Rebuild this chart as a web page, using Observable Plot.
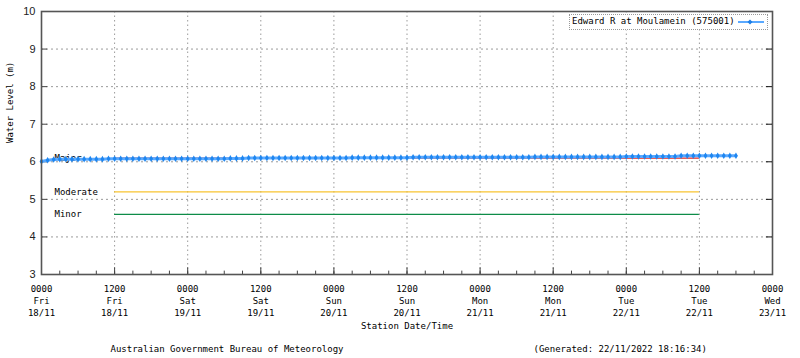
<!DOCTYPE html>
<html><head><meta charset="utf-8">
<script src="https://cdn.jsdelivr.net/npm/d3@7"></script>
<script src="https://cdn.jsdelivr.net/npm/@observablehq/plot@0.6"></script>
<style>
body{margin:0;background:#fff;}
#wrap{position:relative;width:800px;height:358px;}
#legend{position:absolute;left:569px;top:14px;width:197px;height:14px;border:1px dotted #999;background:#fff;font:9px "DejaVu Sans Mono",monospace;color:#000;}
#legend span{position:absolute;left:2px;top:1px;white-space:nowrap;}
#legend svg{position:absolute;left:167px;top:2px;}
</style></head><body><div id="wrap"><div id="legend"><span id="legtext"></span><svg width="28" height="10"><line x1="1" y1="5" x2="27" y2="5" stroke="#5aa9ff" stroke-width="2"/><path d="M13,2.5L15.5,5L13,7.5L10.5,5Z" fill="#1e7fe6"/></svg></div></div>
<script>
const stationName = "Edward R at Moulamein (575001)";
const seriesStart = "2022-11-18T00:00Z"; // first reading, hourly readings follow
const waterLevels = [
  6.01, 6.04, 6.06, 6.07, 6.07, 6.07, 6.07, 6.07, 6.07, 6.07,
  6.07, 6.08, 6.08, 6.08, 6.08, 6.08, 6.08, 6.08, 6.08, 6.08,
  6.08, 6.08, 6.08, 6.08, 6.08, 6.08, 6.08, 6.08, 6.08, 6.08,
  6.08, 6.09, 6.09, 6.09, 6.10, 6.10, 6.10, 6.10, 6.10, 6.10,
  6.10, 6.10, 6.10, 6.10, 6.10, 6.10, 6.10, 6.10, 6.10, 6.10,
  6.10, 6.11, 6.11, 6.11, 6.11, 6.11, 6.11, 6.11, 6.11, 6.11,
  6.11, 6.12, 6.12, 6.12, 6.12, 6.12, 6.12, 6.12, 6.12, 6.12,
  6.12, 6.12, 6.12, 6.12, 6.12, 6.12, 6.12, 6.12, 6.12, 6.12,
  6.12, 6.13, 6.13, 6.13, 6.13, 6.13, 6.13, 6.13, 6.13, 6.13,
  6.13, 6.13, 6.13, 6.13, 6.13, 6.13, 6.14, 6.14, 6.14, 6.14,
  6.14, 6.14, 6.14, 6.14, 6.14, 6.16, 6.16, 6.16, 6.16, 6.16,
  6.16, 6.16, 6.16, 6.16, 6.16
];
const thresholdNames = ["Major", "Moderate", "Minor"];
const thresholdLevels = [6.1, 5.2, 4.6];
const thresholdColors = ["#e3261f", "#f8c430", "#0e8c48"];
const thresholdFrom = "2022-11-18T12:00Z";
const thresholdTo = "2022-11-22T12:00Z";
const xTickTimes = ["2022-11-18T00:00Z","2022-11-18T12:00Z","2022-11-19T00:00Z","2022-11-19T12:00Z","2022-11-20T00:00Z","2022-11-20T12:00Z","2022-11-21T00:00Z","2022-11-21T12:00Z","2022-11-22T00:00Z","2022-11-22T12:00Z","2022-11-23T00:00Z"];
const xTickLabels = ["0000\nFri\n18/11","1200\nFri\n18/11","0000\nSat\n19/11","1200\nSat\n19/11","0000\nSun\n20/11","1200\nSun\n20/11","0000\nMon\n21/11","1200\nMon\n21/11","0000\nTue\n22/11","1200\nTue\n22/11","0000\nWed\n23/11"];
const yTicks = [3, 4, 5, 6, 7, 8, 9, 10];
const yTitle = "Water Level (m)";
const xTitle = "Station Date/Time";
const footerLeft = "Australian Government Bureau of Meteorology";
const footerRight = "(Generated: 22/11/2022 18:16:34)";

const t0 = new Date(seriesStart);
const HOUR = 3600e3;
const series = waterLevels.map((v, i) => ({time: new Date(+t0 + i * HOUR), level: v}));
const xTicks = xTickTimes.map(s => new Date(s));
const xStart = xTicks[0], xEnd = xTicks[xTicks.length - 1];
const minorTicks = d3.utcHour.every(3).range(xStart, xEnd);
const thresholds = thresholdNames.map((n, i) => ({name: n, level: thresholdLevels[i], color: thresholdColors[i]}));
const tFrom = new Date(thresholdFrom), tTo = new Date(thresholdTo);
const mono = "DejaVu Sans Mono";

document.getElementById("legtext").textContent = stationName;

const chart = Plot.plot({
  width: 800, height: 358,
  marginLeft: 41, marginRight: 28, marginTop: 11, marginBottom: 84,
  style: {fontFamily: mono, fontSize: "9px", color: "#000", background: "#fff"},
  x: {type: "utc", domain: [xStart, xEnd]},
  y: {domain: [3, 10]},
  color: {type: "identity"},
  marks: [
    Plot.gridX(xTicks, {stroke: "#9a9a9a", strokeOpacity: 1, strokeDasharray: "1.5,3"}),
    Plot.gridY(yTicks, {stroke: "#9a9a9a", strokeOpacity: 1, strokeDasharray: "2,3"}),
    Plot.ruleX(minorTicks, {y1: 3, y2: 3.09, stroke: "#444"}),
    Plot.ruleX(xTicks, {y1: 3, y2: 3.18, stroke: "#444"}),
    Plot.ruleY(yTicks, {x1: xStart, x2: new Date(+xStart + HOUR), stroke: "#444"}),
    Plot.ruleY(yTicks, {x1: new Date(+xEnd - HOUR), x2: xEnd, stroke: "#111"}),
    Plot.ruleY(thresholds, {y: "level", x1: tFrom, x2: tTo, stroke: "color", strokeWidth: 1.2}),
    Plot.text(thresholds, {y: "level", text: "name", frameAnchor: "left", dx: 13, textAnchor: "start", fontFamily: mono, fontSize: 9, fill: "#000"}),
    Plot.line(series, {x: "time", y: "level", stroke: "#5aa9ff", strokeWidth: 3}),
    Plot.dot(series, {x: "time", y: "level", symbol: "diamond", r: 2, fill: "#1e86f0", stroke: "none"}),
    Plot.axisX(xTicks, {tickFormat: d => xTickLabels[xTicks.findIndex(t => +t === +d)], tickSize: 0, tickPadding: 9, lineHeight: 1.33, fontFamily: mono, fontSize: 9, label: null}),
    Plot.axisY(yTicks, {tickSize: 0, tickPadding: 6, fontFamily: "Liberation Sans", fontSize: 11, fill: "#222", label: null}),
    Plot.frame({stroke: "#555", strokeWidth: 1.6}),
    Plot.text([yTitle], {frameAnchor: "left", dx: -31, rotate: -90, fontFamily: mono, fontSize: 9}),
    Plot.text([xTitle], {frameAnchor: "bottom", dy: 54, fontFamily: mono, fontSize: 9}),
    Plot.text([footerLeft], {frameAnchor: "bottom-left", dx: 69, dy: 77, textAnchor: "start", fontFamily: mono, fontSize: 9}),
    Plot.text([footerRight], {frameAnchor: "bottom-left", dx: 492, dy: 77, textAnchor: "start", fontFamily: mono, fontSize: 9})
  ]
});
document.getElementById("wrap").prepend(chart);
</script>
</body></html>
